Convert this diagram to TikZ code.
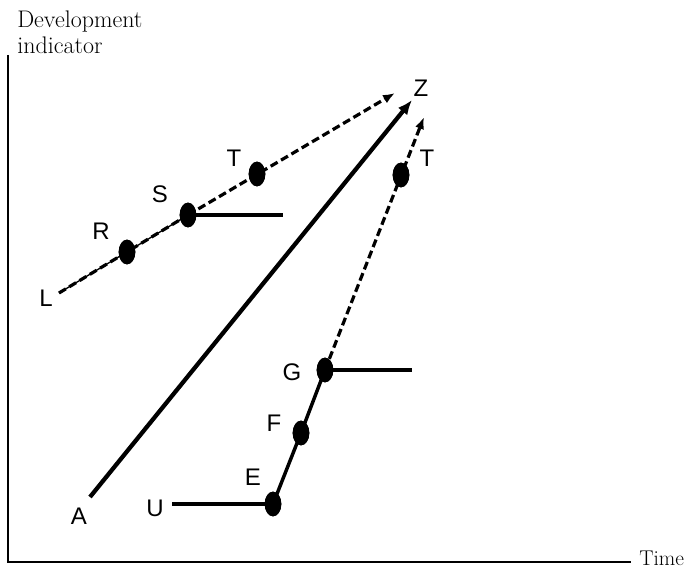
\documentclass[tikz,border=0pt]{standalone}
\usepackage{fontspec}
\setsansfont{Liberation Sans}
\usetikzlibrary{shapes.geometric,arrows.meta}

\begin{document}
\begin{tikzpicture}[
  >={Latex[length=11pt,width=9pt]},
  x=0.75pt, y=-0.75pt,      % one unit = one pixel of the sketch
  dot/.style={ellipse,fill,inner sep=0pt,minimum width=12.5pt,minimum height=18.5pt},
  lbl/.style={font=\sffamily\fontsize{18}{21}\selectfont,inner sep=0pt},
  axis/.style={line width=1.5pt},
  solidline/.style={line width=3.2pt},
  pathline/.style={line width=2.6pt},
  dashline/.style={line width=2.4pt,dash pattern=on 6pt off 3pt,
    -{Latex[length=9pt,width=7pt]}}
]
\useasboundingbox (0,0) rectangle (689,570);

% --- axes
\coordinate (ytop) at (8,55);
\coordinate (origin) at (8,562);
\coordinate (xend) at (631,562);
\draw[axis] (ytop) -- (origin) -- (xend);
\node[anchor=north west,align=left,inner sep=0pt,
  font=\fontsize{18}{19.5}\selectfont] (ylab) at (17,11) {Development\\indicator};
\node[anchor=base west,inner sep=0pt,font=\fontsize{16}{19.5}\selectfont]
  (xlab) at (639,565) {Time};

% --- free ends and arrow tips
\coordinate (l0) at (59,293);
\coordinate (a0) at (90,497);
\coordinate (u0) at (172,504);
\coordinate (zd) at (395,93);
\coordinate (za) at (412,100);
\coordinate (zt) at (424,117);
\coordinate (sh) at (283,215);
\coordinate (gh) at (412,370);

% --- dots
\node[dot] (R)  at (127,252) {};
\node[dot] (S)  at (188,215) {};
\node[dot] (T)  at (257,174) {};
\node[dot] (T2) at (401,175) {};
\node[dot] (G)  at (325,370) {};
\node[dot] (F)  at (301,433) {};
\node[dot] (E)  at (273,504) {};

% ===== upper path L -> Z =====
\draw[line width=1pt] (l0) -- (S.center);
\draw[dashline,-] (l0) -- (S.center);
\draw[dashline] (S.center) -- (zd);
\draw[solidline] (S.center) -- (sh);

% ===== straight path A -> Z =====
\draw[solidline,->] (a0) -- (za);

% ===== lower path U -> Z =====
\draw[solidline] (u0) -- (E.center);
\draw[pathline] (E.center) -- (F.center) -- (G.center);
\draw[dashline] (G.center) -- (zt);
\draw[solidline] (G.center) -- (gh);

% --- dots again on top
\foreach \d in {R,S,T,T2,G,F,E}
  \fill (\d) ellipse (6.25pt and 9.25pt);

% --- labels
\node[lbl] (labL)  at (46,298) {L};
\node[lbl] (labR)  at (101,231) {R};
\node[lbl] (labS)  at (160,194) {S};
\node[lbl] (labT)  at (234,158) {T};
\node[lbl] (labZ)  at (421,88) {Z};
\node[lbl] (labT2) at (427,158) {T};
\node[lbl] (labG)  at (292,372) {G};
\node[lbl] (labF)  at (274,423) {F};
\node[lbl] (labE)  at (253,477) {E};
\node[lbl] (labU)  at (155,508) {U};
\node[lbl] (labA)  at (79,516) {A};

\end{tikzpicture}
\end{document}
